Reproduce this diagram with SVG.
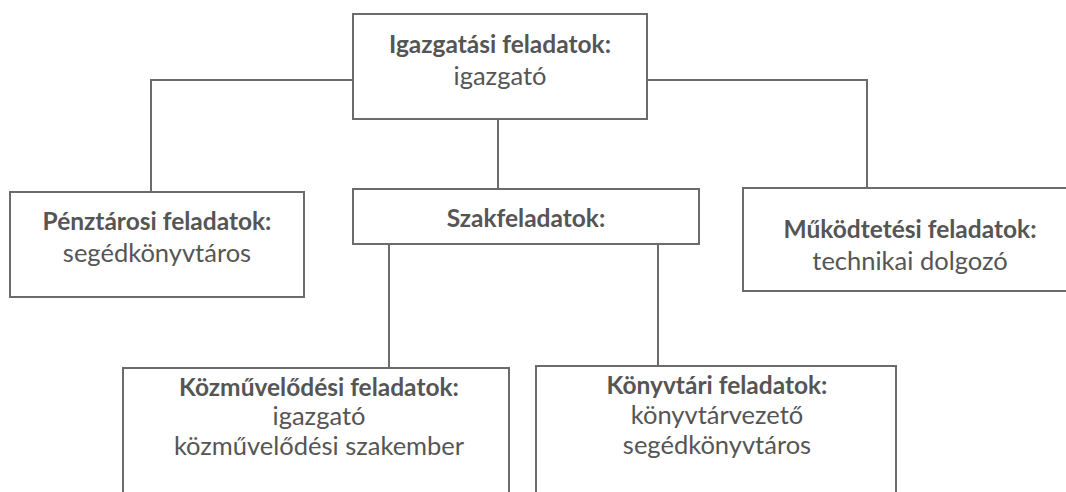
<svg xmlns="http://www.w3.org/2000/svg" width="1066" height="492" viewBox="0 0 1066 492">
<style>
.box{fill:#fff;stroke:#6b6b6b;stroke-width:2}
.con{fill:none;stroke:#6b6b6b;stroke-width:2}
text{font-family:Lato,"Open Sans",sans-serif;font-size:25.5px;fill:#555;text-anchor:middle}
.b{font-weight:bold;font-size:24.5px}
</style>
<rect width="1066" height="492" fill="#fff"/>
<g id="connectors">
<path class="con" d="M353 80 H151 V192"/>
<path class="con" d="M647 80 H867 V188"/>
<path class="con" d="M498 119 V190"/>
<path class="con" d="M389 244 V368"/>
<path class="con" d="M658 244 V366"/>
</g>
<g id="igazgatasi">
<rect class="box" x="353" y="14" width="294" height="105"/>
<text class="b" x="500" y="53">Igazgatási feladatok:</text>
<text x="500" y="85">igazgató</text>
</g>
<g id="penztarosi">
<rect class="box" x="10" y="192" width="294" height="105"/>
<text class="b" x="157" y="230">Pénztárosi feladatok:</text>
<text x="157" y="262">segédkönyvtáros</text>
</g>
<g id="szakfeladatok">
<rect class="box" x="353" y="189" width="346" height="55"/>
<text class="b" x="526" y="227">Szakfeladatok:</text>
</g>
<g id="mukodtetesi">
<rect class="box" x="743" y="188" width="340" height="103"/>
<text class="b" x="910" y="238">Működtetési feladatok:</text>
<text x="910" y="270">technikai dolgozó</text>
</g>
<g id="kozmuvelodesi">
<rect class="box" x="123" y="368" width="386" height="140"/>
<text class="b" x="319" y="396">Közművelődési feladatok:</text>
<text x="319" y="425">igazgató</text>
<text x="319" y="455">közművelődési szakember</text>
</g>
<g id="konyvtari">
<rect class="box" x="536" y="366" width="360" height="140"/>
<text class="b" x="717" y="394">Könyvtári feladatok:</text>
<text x="717" y="424">könyvtárvezető</text>
<text x="717" y="454">segédkönyvtáros</text>
</g>
</svg>
